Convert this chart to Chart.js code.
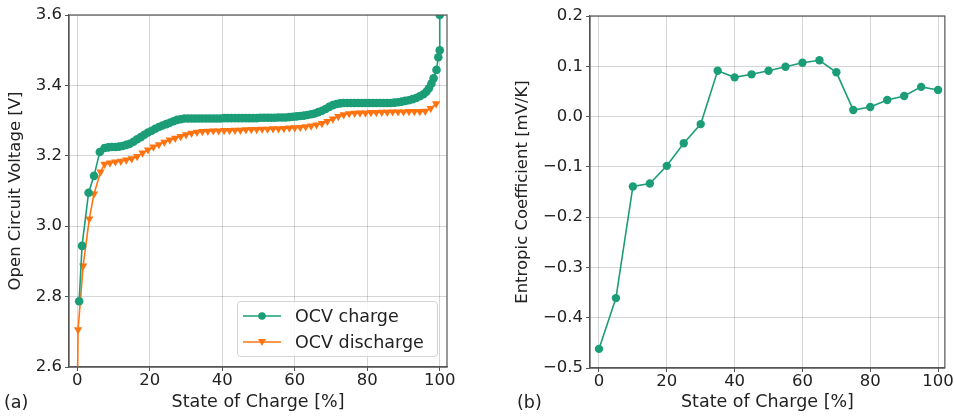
<!DOCTYPE html>
<html>
<head>
<meta charset="utf-8">
<title>OCV and entropic coefficient</title>
<script src="https://cdn.jsdelivr.net/npm/chart.js@4.4.1/dist/chart.umd.min.js"></script>
<style>
  body { margin: 0; background: #fff; font-family: "DejaVu Sans", sans-serif; color: #222; }
  #wrap { position: relative; width: 954px; height: 416px; overflow: hidden; }
  .box { position: absolute; top: 0; height: 416px; }
  .panel { position: absolute; font-size: 17.5px; color: #222; }
  #legend {
    position: absolute; left: 237px; top: 301px; width: 199px; height: 54px;
    border: 1px solid #d4d4d4; border-radius: 4px; background: rgba(255,255,255,0.85);
    font-size: 17.5px; color: #222;
  }
  #legend .row { position: absolute; left: 5px; height: 22px; display: flex; align-items: center; }
  #legend svg { margin-right: 14px; }
</style>
</head>
<body>
<div id="wrap">
  <div class="box" style="left:0;width:460px"><canvas id="ocvChart"></canvas></div>
  <div class="box" style="left:470px;width:484px"><canvas id="entropyChart"></canvas></div>
  <div class="panel" style="left:4px;top:392px">(a)</div>
  <div class="panel" style="left:517px;top:392px">(b)</div>
  <div id="legend">
    <div class="row" style="top:3px">
      <svg width="38" height="12"><line x1="0" y1="6" x2="38" y2="6" stroke="#1b9e77" stroke-width="1.6"/><circle cx="19" cy="6" r="3.8" fill="#1b9e77"/></svg>
      <span>OCV charge</span>
    </div>
    <div class="row" style="top:29px">
      <svg width="38" height="12"><line x1="0" y1="6" x2="38" y2="6" stroke="#ff7410" stroke-width="1.6"/><polygon points="15,3 23,3 19,10" fill="#ff7410"/></svg>
      <span>OCV discharge</span>
    </div>
  </div>
</div>

<script>
// values
const chargeSoc = [
  0.5, 1.3, 3.1, 4.6, 6.2, 7.5, 8.5, 9.5, 10.5, 11.5, 12.5, 13.5, 14.5, 15.5, 16.5, 17.5,
  18.5, 19.5, 20.5, 21.5, 22.5, 23.5, 24.5, 25.5, 26.5, 27.5, 28.5, 29.5, 30.5, 31.5, 32.5,
  33.5, 34.5, 35.5, 36.5, 37.5, 38.5, 39.5, 40.5, 41.5, 42.5, 43.5, 44.5, 45.5, 46.5, 47.5,
  48.5, 49.5, 50.5, 51.5, 52.5, 53.5, 54.5, 55.5, 56.5, 57.5, 58.5, 59.5, 60.5, 61.5, 62.5,
  63.5, 64.5, 65.5, 66.5, 67.5, 68.5, 69.5, 70.5, 71.5, 72.5, 73.5, 74.5, 75.5, 76.5, 77.5,
  78.5, 79.5, 80.5, 81.5, 82.5, 83.5, 84.5, 85.5, 86.5, 87.5, 88.5, 89.5, 90.5, 91.5, 92.5,
  93.5, 94.5, 95.5, 96.3, 97.0, 97.7, 98.3, 99.1, 99.6, 100, 100
];
const chargeOcv = [
  2.787, 2.944, 3.095, 3.143, 3.211, 3.222, 3.224, 3.225, 3.225, 3.226, 3.228, 3.231, 3.234, 3.240, 3.247, 3.253,
  3.260, 3.266, 3.271, 3.277, 3.282, 3.286, 3.290, 3.294, 3.298, 3.302, 3.304, 3.306, 3.306, 3.306, 3.306,
  3.306, 3.306, 3.306, 3.306, 3.306, 3.306, 3.306, 3.307, 3.307, 3.307, 3.307, 3.307, 3.307, 3.307, 3.307,
  3.307, 3.307, 3.308, 3.308, 3.308, 3.308, 3.308, 3.309, 3.309, 3.309, 3.310, 3.311, 3.312, 3.313, 3.314,
  3.316, 3.318, 3.320, 3.324, 3.328, 3.333, 3.339, 3.344, 3.347, 3.349, 3.350, 3.350, 3.350, 3.350, 3.350,
  3.350, 3.350, 3.350, 3.350, 3.350, 3.350, 3.350, 3.350, 3.350, 3.351, 3.352, 3.354, 3.356, 3.358, 3.361,
  3.364, 3.369, 3.375, 3.382, 3.392, 3.405, 3.420, 3.444, 3.480, 3.500, 3.600
];
const dischargeSoc = [
  0, 0.2, 1.6, 3.3, 4.6, 6.4, 7.5, 9, 10.5, 12, 13.5, 15, 16.5, 18, 19.5, 21, 22.5, 24, 25.5,
  27, 28.5, 30, 31.5, 33, 34.5, 36, 37.5, 39, 40.5, 42, 43.5, 45, 46.5, 48, 49.5, 51, 52.5,
  54, 55.5, 57, 58.5, 60, 61.5, 63, 64.5, 66, 67.5, 69, 70.5, 72, 73.5, 75, 76.5, 78, 79.5,
  81, 82.5, 84, 85.5, 87, 88.5, 90, 91.5, 93, 94.5, 96, 97.5, 99
];
const dischargeOcv = [
  2.50, 2.706, 2.887, 3.021, 3.092, 3.154, 3.176, 3.180, 3.183, 3.185, 3.188, 3.192, 3.198, 3.208, 3.217, 3.225, 3.232, 3.239, 3.245,
  3.250, 3.255, 3.260, 3.264, 3.267, 3.269, 3.270, 3.271, 3.271, 3.272, 3.272, 3.273, 3.273, 3.274, 3.275, 3.275, 3.276, 3.276,
  3.277, 3.277, 3.278, 3.279, 3.280, 3.281, 3.283, 3.285, 3.288, 3.292, 3.298, 3.305, 3.312, 3.317, 3.320, 3.321, 3.322, 3.322,
  3.323, 3.323, 3.324, 3.324, 3.325, 3.325, 3.325, 3.326, 3.326, 3.326, 3.327, 3.335, 3.348
];
const entropySoc = [0, 5, 10, 15, 20, 25, 30, 35, 40, 45, 50, 55, 60, 65, 70, 75, 80, 85, 90, 95, 100];
const entropyCoef = [
  -0.462, -0.361, -0.139, -0.133, -0.098, -0.053, -0.015, 0.091, 0.078, 0.084, 0.091,
  0.099, 0.107, 0.112, 0.088, 0.013, 0.019, 0.033, 0.041, 0.059, 0.053
];
const socTicks = [0, 20, 40, 60, 80, 100];
const ocvTicks = [2.6, 2.8, 3.0, 3.2, 3.4, 3.6];
const entropyTicks = [-0.5, -0.4, -0.3, -0.2, -0.1, 0.0, 0.1, 0.2];

const green = '#1b9e77';
const orange = '#ff7410';
const ink = '#222';
const gridCol = 'rgba(0,0,0,0.16)';
const spine = '#555';

function pairs(xs, ys) {
  return xs.map((x, i) => ({ x: x, y: ys[i] }));
}

// matplotlib style frame round the plot area
const framePlugin = {
  id: 'frame',
  afterDraw(chart) {
    const a = chart.chartArea;
    const ctx = chart.ctx;
    ctx.save();
    ctx.strokeStyle = spine;
    ctx.lineWidth = 1.2;
    ctx.strokeRect(a.left, a.top, a.right - a.left, a.bottom - a.top);
    ctx.restore();
  }
};

function axis(opts) {
  return {
    type: 'linear',
    min: opts.min,
    max: opts.max,
    afterBuildTicks: s => { s.ticks = opts.ticks.map(v => ({ value: v })); },
    afterFit: s => {
      if (opts.width) s.width = opts.width;
      if (opts.height) s.height = opts.height;
    },
    grid: { color: gridCol, lineWidth: 1, tickLength: 4, tickColor: spine },
    border: { display: true, color: spine, width: 1.2 },
    ticks: {
      color: ink,
      padding: opts.tickPad,
      font: { family: 'DejaVu Sans', size: 16.5 },
      callback: opts.fmt
    },
    title: {
      display: true,
      text: opts.title,
      color: ink,
      font: { family: 'DejaVu Sans', size: opts.titleSize },
      padding: opts.titlePad
    }
  };
}

const common = {
  responsive: true,
  maintainAspectRatio: false,
  animation: false,
  plugins: { legend: { display: false }, tooltip: { enabled: false } }
};

new Chart(document.getElementById('ocvChart'), {
  type: 'line',
  data: {
    datasets: [
      {
        label: 'OCV charge',
        data: pairs(chargeSoc, chargeOcv),
        borderColor: green,
        backgroundColor: green,
        borderWidth: 1.6,
        pointRadius: 4.3,
        pointBorderWidth: 0,
        tension: 0
      },
      {
        label: 'OCV discharge',
        data: pairs(dischargeSoc, dischargeOcv),
        borderColor: orange,
        backgroundColor: orange,
        borderWidth: 1.6,
        pointStyle: 'triangle',
        pointRotation: 180,
        pointRadius: 4.8,
        pointBorderWidth: 0,
        tension: 0
      }
    ]
  },
  options: Object.assign({}, common, {
    layout: { padding: { left: 0, right: 13, top: 15, bottom: 0 } },
    scales: {
      x: axis({
        min: -2.3, max: 102, ticks: socTicks, height: 49, tickPad: 0,
        fmt: v => String(v), title: 'State of Charge [%]', titleSize: 17.5,
        titlePad: { top: 0, bottom: 3.5 }
      }),
      y: axis({
        min: 2.6, max: 3.6, ticks: ocvTicks, width: 69, tickPad: 3,
        fmt: v => v.toFixed(1), title: 'Open Circuit Voltage [V]', titleSize: 16.5,
        titlePad: { top: 6, bottom: 0 }
      })
    }
  }),
  plugins: [framePlugin]
});

new Chart(document.getElementById('entropyChart'), {
  type: 'line',
  data: {
    datasets: [{
      label: 'Entropic coefficient',
      data: pairs(entropySoc, entropyCoef),
      borderColor: green,
      backgroundColor: green,
      borderWidth: 1.6,
      pointRadius: 4.2,
      pointBorderWidth: 0,
      tension: 0
    }]
  },
  options: Object.assign({}, common, {
    layout: { padding: { left: 0, right: 9, top: 16, bottom: 0 } },
    scales: {
      x: axis({
        min: -2.65, max: 102, ticks: socTicks, height: 48, tickPad: 0,
        fmt: v => String(v), title: 'State of Charge [%]', titleSize: 17.5,
        titlePad: { top: 0, bottom: 3.5 }
      }),
      y: axis({
        min: -0.5, max: 0.2, ticks: entropyTicks, width: 120, tickPad: 3,
        fmt: v => v.toFixed(1).replace('-', '\u2212'), title: 'Entropic Coefficient [mV/K]', titleSize: 16.5,
        titlePad: { top: 43, bottom: 0 }
      })
    }
  }),
  plugins: [framePlugin]
});
</script>
</body>
</html>
